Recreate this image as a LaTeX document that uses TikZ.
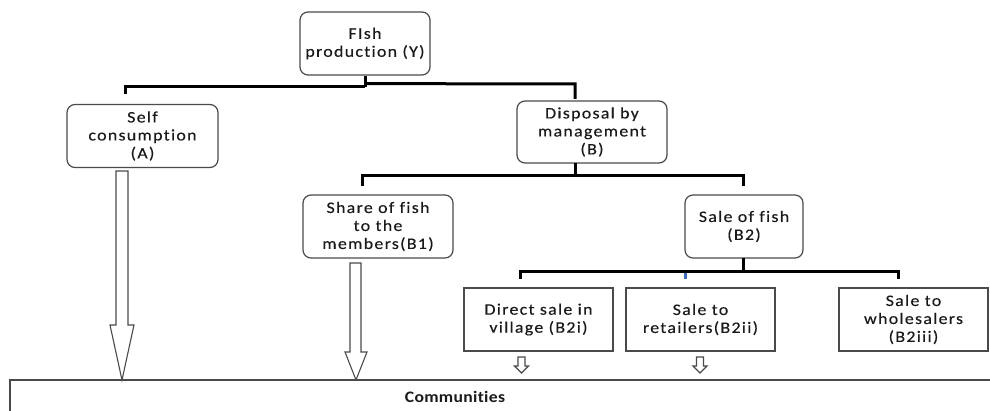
\documentclass[tikz,border=0pt]{standalone}
\usepackage{fontspec}
\setmainfont{Carlito}[FakeStretch=1.12,LetterSpace=8,Ligatures={NoCommon},FakeBold=0.3]
\newfontfamily\commfont{Carlito}[FakeStretch=1.1,LetterSpace=2,Ligatures={NoCommon}]
\usetikzlibrary{calc}
\definecolor{bordergray}{HTML}{4A4A4A}
\definecolor{txt}{HTML}{1A1A1A}
\definecolor{tick}{HTML}{3A6FB8}
\begin{document}
\begin{tikzpicture}[x=1pt,y=-1pt,
  rbox/.style={draw=bordergray,line width=1.2pt,rounded corners=8pt,align=center,
    text=txt,font=\fontsize{16}{18}\selectfont,inner sep=0pt},
  sbox/.style={draw=bordergray,line width=1.2pt,align=center,
    text=txt,font=\fontsize{16}{18}\selectfont,inner sep=0pt},
  conn/.style={line width=3pt,black},
  harrow/.style={draw=bordergray,line width=1.1pt,fill=white,line join=miter}]
\useasboundingbox (0,0) rectangle (990,411);
% nodes
\node[rbox,minimum width=130pt,minimum height=63pt] (fish) at (365,43.5) {FIsh\\production (Y)};
\node[rbox,minimum width=151pt,minimum height=63pt] (self) at (142.5,136) {Self\\consumption\\(A)};
\node[rbox,minimum width=150pt,minimum height=62pt] (disp) at (592,132) {Disposal by\\management\\(B)};
\node[rbox,minimum width=150pt,minimum height=63pt] (share) at (378,226.5) {Share of fish\\to the\\members(B1)};
\node[rbox,minimum width=118pt,minimum height=63pt] (sale) at (744,226.5) {Sale of fish\\(B2)};
\node[sbox,minimum width=149pt,minimum height=63pt] (direct) at (538.5,319.5) {Direct sale in\\village (B2i)};
\node[sbox,minimum width=149pt,minimum height=63pt] (retail) at (700.5,319.5) {Sale to\\retailers(B2ii)};
\node[sbox,minimum width=149pt,minimum height=63pt] (whole) at (913.5,319.5) {Sale to\\wholesalers\\(B2iii)};
\draw[draw=bordergray,line width=1.2pt] (10,440) -- (10,380) -- (1000,380);
\node[text=txt,font=\commfont\bfseries\fontsize{16}{16}\selectfont] (comm) at (455,397) {Communities};
% coordinates for connector ends
\coordinate (f1) at ($(fish.south)+(0,11)$);
\coordinate (sA) at (125,94);
\coordinate (dB) at (575,99);
\coordinate (d0) at (575,163);
\coordinate (sB1) at (362,186);
\coordinate (sB2) at (743,186);
\coordinate (s0) at (743,258);
\coordinate (b1) at (520,279);
\coordinate (b3) at (898,279);
% first level
\draw[conn] (fish.south) -- (f1);
\draw[conn] (sA) -- (sA |- f1) -- (f1);
\draw[conn] ($(f1)+(0,-3)$) -- (dB |- 0,84) -- (dB);
% second level
\draw[conn] (d0) -- (575,176);
\draw[conn] (sB1) -- (sB1 |- 0,176) -- (sB2 |- 0,176) -- (sB2);
% third level
\draw[conn] (s0) -- (743,272);
\draw[conn] (b1) -- (b1 |- 0,272) -- (b3 |- 0,272) -- (b3);
\draw[line width=3pt,tick] (685,273.5) -- (685,279);
% hollow arrows
\draw[harrow] (116,171) -- (128,171) -- (128,325) -- (134,325) -- (122,380) -- (110,325) -- (116,325) -- cycle;
\draw[harrow] (350,263) -- (361,263) -- (361,352) -- (367,352) -- (356,380) -- (345,352) -- (350,352) -- cycle;
\draw[harrow] (518,357) -- (525,357) -- (525,366) -- (528.5,366) -- (521.5,373) -- (514.5,366) -- (518,366) -- cycle;
\draw[harrow] (696.5,357) -- (703.5,357) -- (703.5,366) -- (707,366) -- (700,373) -- (693,366) -- (696.5,366) -- cycle;
\end{tikzpicture}
\end{document}
